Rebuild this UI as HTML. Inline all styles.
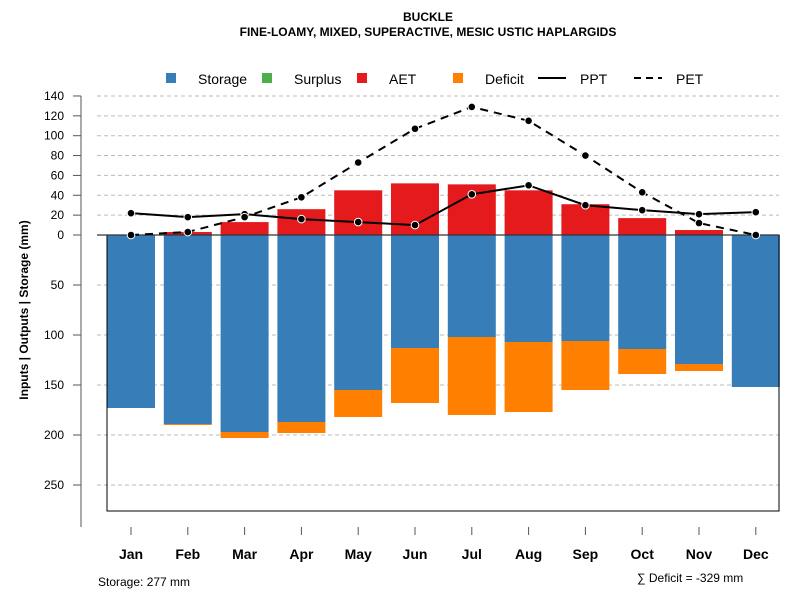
<!DOCTYPE html>
<html><head><meta charset="utf-8"><style>
body{margin:0;background:#fff;font-family:"Liberation Sans",sans-serif}
svg text{font-family:"Liberation Sans",sans-serif}
</style></head><body>
<svg id="c" width="800" height="600" xmlns="http://www.w3.org/2000/svg">
<text x="428" y="21" text-anchor="middle" font-size="12" font-weight="bold">BUCKLE</text>
<text x="428" y="36" text-anchor="middle" font-size="12" font-weight="bold">FINE-LOAMY, MIXED, SUPERACTIVE, MESIC USTIC HAPLARGIDS</text>
<g id="legend">
<rect x="166" y="73" width="10" height="10" fill="#377eb8"/>
<text x="198" y="84" font-size="14">Storage</text>
<rect x="262" y="73" width="10" height="10" fill="#4daf4a"/>
<text x="294" y="84" font-size="14">Surplus</text>
<rect x="357" y="73" width="10" height="10" fill="#e41a1c"/>
<text x="389" y="84" font-size="14">AET</text>
<rect x="453" y="73" width="10" height="10" fill="#ff7f00"/>
<text x="485" y="84" font-size="14">Deficit</text>
<line x1="538" y1="78" x2="566" y2="78" stroke="#000" stroke-width="2"/>
<text x="580" y="84" font-size="14">PPT</text>
<line x1="634" y1="78" x2="662" y2="78" stroke="#000" stroke-width="2" stroke-dasharray="7,5"/>
<text x="676" y="84" font-size="14">PET</text>
</g>
<g id="grid"></g><g id="bars"></g>
<rect x="107" y="235" width="672" height="276" fill="none" stroke="#000" stroke-width="1"/>
<line x1="97" y1="235" x2="779" y2="235" stroke="#333" stroke-width="1.2"/>
<g id="lines"></g><g id="axes"></g>
<text transform="translate(28,310) rotate(-90)" text-anchor="middle" font-size="12" font-weight="bold">Inputs | Outputs | Storage    (mm)</text>
<text x="98" y="586" font-size="12">Storage: 277 mm</text>
<text x="637" y="582" font-size="12">∑ Deficit = -329 mm</text>
</svg>
<script>
const months=["Jan","Feb","Mar","Apr","May","Jun","Jul","Aug","Sep","Oct","Nov","Dec"];
const storage=[173,189,197,187,155,113,102,107,106,114,129,152];
const deficit=[0,1,6,11,27,55,78,70,49,25,7,0];
const aet=[0,3,13,26,45,52,51,45,31,17,5,0];
const ppt=[22,18,21,16,13,10,41,50,30,25,21,23];
const pet=[0,3,18,38,73,107,129,115,80,43,12,0];
const upTicks=[0,20,40,60,80,100,120,140];
const downTicks=[50,100,150,200,250];
const NS="http://www.w3.org/2000/svg";
function X(i){return 131+i*56.8;}
function Yup(v){return 235-v*0.993;}
function Ydn(v){return 235+v;}
function mk(t,a,p){const e=document.createElementNS(NS,t);for(const k in a)e.setAttribute(k,a[k]);document.getElementById(p).appendChild(e);return e;}
upTicks.concat(downTicks.map(v=>-v)).forEach(v=>{
 const y=v>=0?Yup(v):Ydn(-v);
 if(v!==0){const g=mk("line",{x1:97,x2:779,y1:y,y2:y,stroke:"#bbb","stroke-dasharray":"4,3"},"grid");
 
 }
 const t=mk("line",{x1:73,x2:81,y1:y,y2:y,stroke:"#555"},"axes");
 
 
 const l=mk("text",{x:64,y:y+4,"text-anchor":"end","font-size":12},"axes");
 l.textContent=Math.abs(v);
 
 
});
const ax=mk("line",{x1:81,x2:81,y1:96,y2:527,stroke:"#555"},"axes");


months.forEach((m,i)=>{
 const x=X(i),w=48;
 const s=mk("rect",{x:x-w/2,y:235,width:w,height:Ydn(storage[i])-235,fill:"#377eb8"},"bars");
 
 
 if(deficit[i]>0){const d=mk("rect",{x:x-w/2,y:Ydn(storage[i]),width:w,height:deficit[i],fill:"#ff7f00"},"bars");
 
 }
 if(aet[i]>0){const a=mk("rect",{x:x-w/2,y:Yup(aet[i]),width:w,height:235-Yup(aet[i]),fill:"#e41a1c"},"bars");
 
 }
 const t=mk("line",{x1:x,x2:x,y1:527,y2:535,stroke:"#555"},"axes");
 
 
 const l=mk("text",{x:x,y:559,"text-anchor":"middle","font-size":14,"font-weight":"bold"},"axes");
 l.textContent=m;
 
 
});
function series(vals,dash,name){
 const p=mk("polyline",{points:vals.map((v,i)=>X(i)+","+Yup(v)).join(" "),fill:"none",stroke:"#000","stroke-width":2,"stroke-dasharray":dash},"lines");
 
 
 vals.forEach((v,i)=>{const c=mk("circle",{cx:X(i),cy:Yup(v),r:3.8,fill:"#000",stroke:"#fff","stroke-width":1},"lines");
 
 });
}
series(ppt,"none","ppt");
series(pet,"8,6","pet");
</script>
</body></html>
